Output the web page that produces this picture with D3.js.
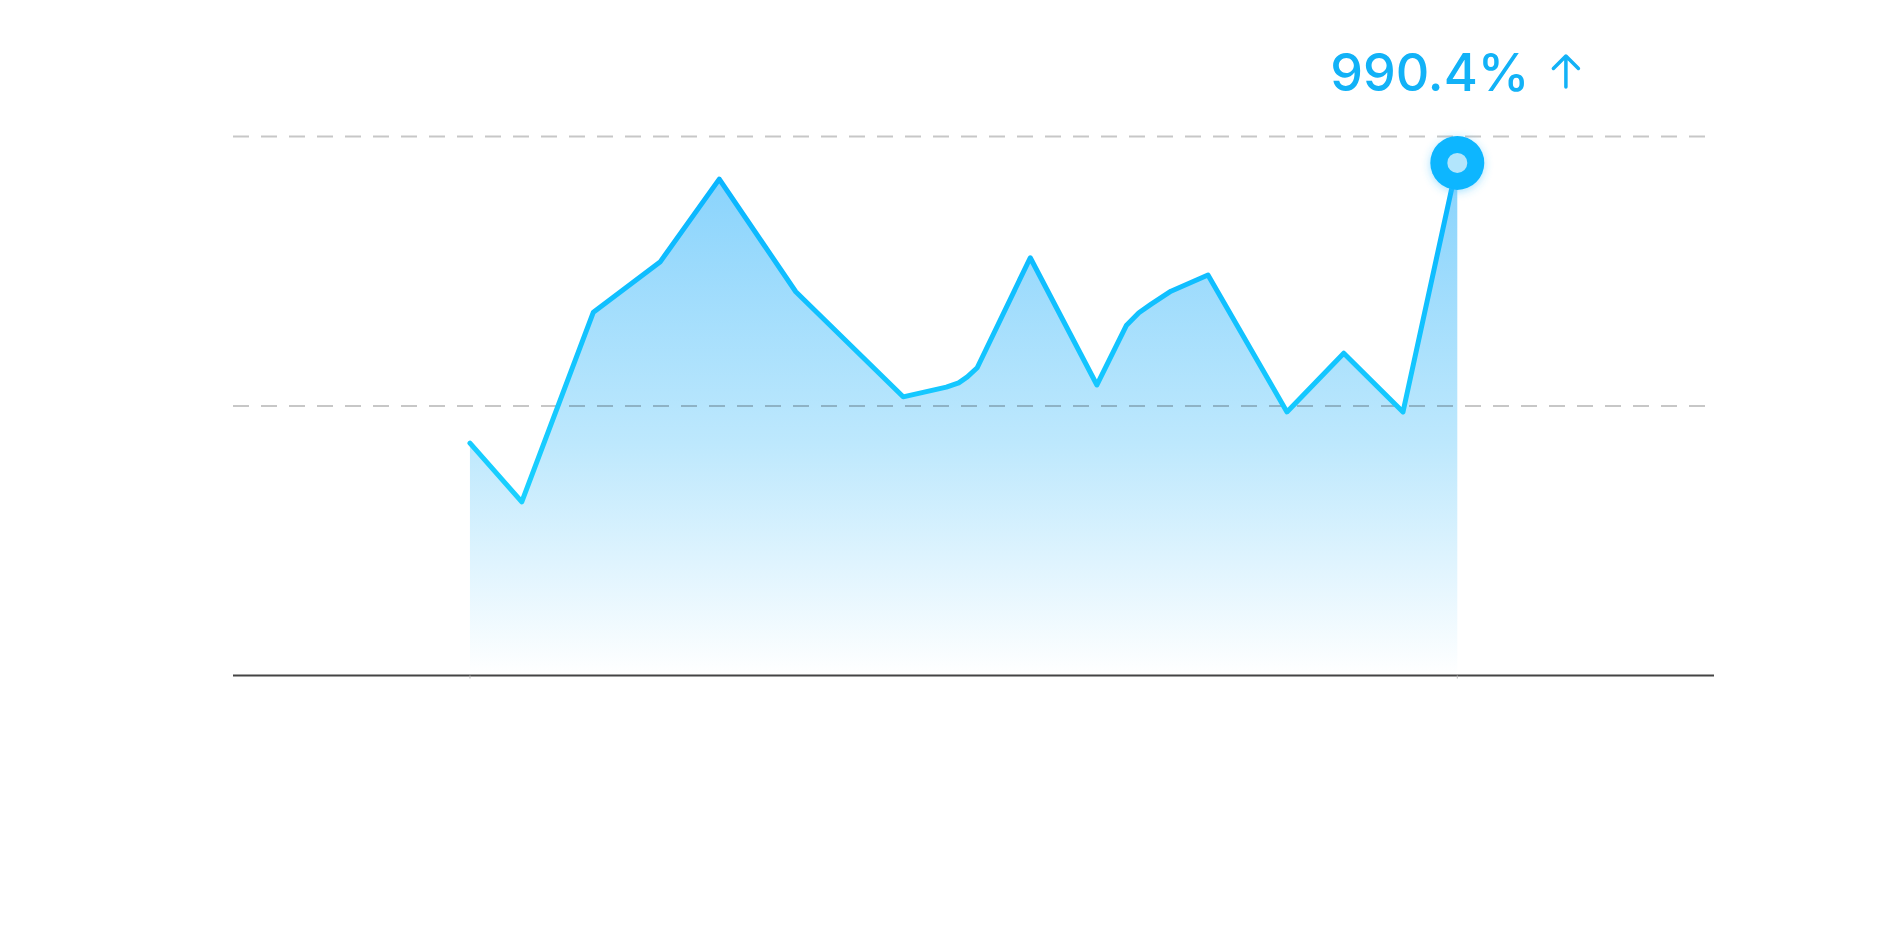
<!DOCTYPE html>
<html>
<head>
<meta charset="utf-8">
<script src="https://cdn.jsdelivr.net/npm/d3@7"></script>
<style>
  html, body { margin: 0; padding: 0; background: #fff; }
  svg { display: block; }
</style>
</head>
<body>
<div id="chart"></div>
<script>
// data (x = day index, y = value)
var days   = [9.6, 11.7, 14.6, 17.3, 19.7, 22.8, 27.15, 28.9, 29.4, 29.75, 30.15, 32.3, 35.0, 36.2, 36.7, 37.2, 38.0, 39.5, 42.7, 45.0, 47.4, 49.6];
var values = [431, 322, 674, 767, 921, 712, 517, 535, 543, 554, 571, 775, 539, 650, 673, 689, 713, 743, 489, 598, 489, 951];
var yTicks = [500, 1000];
var labelText = "990.4%";

var data = days.map(function (d, i) { return {day: d, value: values[i]}; });

var W = 1900, H = 940;
var margin = {top: 136.5, right: 186, bottom: 264.5, left: 233},
    width = W - margin.left - margin.right,
    height = H - margin.top - margin.bottom;

var svg = d3.select("#chart")
  .append("svg")
    .attr("width", W)
    .attr("height", H);

var defs = svg.append("defs");

var g = svg.append("g")
    .attr("transform", "translate(" + margin.left + "," + margin.top + ")");

var x = d3.scaleLinear().domain([0, 60]).range([0, width]);
var y = d3.scaleLinear().domain([0, 1000]).range([height, 0]);

// gradients
var areaGrad = defs.append("linearGradient")
    .attr("id", "areaGrad")
    .attr("gradientUnits", "userSpaceOnUse")
    .attr("x1", 0).attr("x2", 0)
    .attr("y1", y(960)).attr("y2", y(0));
areaGrad.append("stop").attr("offset", "0%").attr("stop-color", "#86d2fc");
areaGrad.append("stop").attr("offset", "55%").attr("stop-color", "#bde8fd");
areaGrad.append("stop").attr("offset", "100%").attr("stop-color", "#ffffff");

var lineGrad = defs.append("linearGradient")
    .attr("id", "lineGrad")
    .attr("gradientUnits", "userSpaceOnUse")
    .attr("x1", 0).attr("x2", 0)
    .attr("y1", y(950)).attr("y2", y(300));
lineGrad.append("stop").attr("offset", "0%").attr("stop-color", "#0ab4ff");
lineGrad.append("stop").attr("offset", "100%").attr("stop-color", "#1bd2ff");

var glow = defs.append("filter")
    .attr("id", "glow")
    .attr("x", "-60%").attr("y", "-60%")
    .attr("width", "220%").attr("height", "220%");
glow.append("feDropShadow")
    .attr("dx", 0).attr("dy", 2)
    .attr("stdDeviation", 4)
    .attr("flood-color", "#3cc0ff")
    .attr("flood-opacity", 0.45);

// area
var area = d3.area()
    .x(function (d) { return x(d.day); })
    .y0(y(0))
    .y1(function (d) { return y(d.value); });

g.append("path")
    .datum(data)
    .attr("d", area)
    .attr("fill", "url(#areaGrad)");

// grid lines (drawn over the area, semi transparent)
g.append("g")
  .selectAll("line")
  .data(yTicks)
  .enter()
  .append("line")
    .attr("x1", 0)
    .attr("x2", width)
    .attr("y1", function (d) { return y(d); })
    .attr("y2", function (d) { return y(d); })
    .attr("stroke", "rgba(0,0,0,0.22)")
    .attr("stroke-width", 2)
    .attr("stroke-dasharray", "16,12");

// baseline
g.append("line")
    .attr("x1", 0).attr("x2", width)
    .attr("y1", y(0)).attr("y2", y(0))
    .attr("stroke", "#444")
    .attr("stroke-width", 2);

// small ticks at first / last point
g.append("g")
  .selectAll("line")
  .data([data[0], data[data.length - 1]])
  .enter()
  .append("line")
    .attr("x1", function (d) { return x(d.day); })
    .attr("x2", function (d) { return x(d.day); })
    .attr("y1", y(0))
    .attr("y2", y(0) + 3)
    .attr("stroke", "#bbb")
    .attr("stroke-width", 1);

// line
var line = d3.line()
    .x(function (d) { return x(d.day); })
    .y(function (d) { return y(d.value); });

g.append("path")
    .datum(data)
    .attr("d", line)
    .attr("fill", "none")
    .attr("stroke", "url(#lineGrad)")
    .attr("stroke-width", 5)
    .attr("stroke-linejoin", "round")
    .attr("stroke-linecap", "round");

// last point marker
var last = data[data.length - 1];
var mx = x(last.day), my = y(last.value);

g.append("circle")
    .attr("cx", mx).attr("cy", my)
    .attr("r", 27)
    .attr("fill", "#10b6ff")
    .attr("filter", "url(#glow)");
g.append("circle")
    .attr("cx", mx).attr("cy", my)
    .attr("r", 10)
    .attr("fill", "#b2e5fc");

// label above the last point
var label = g.append("g");
var txt = label.append("text")
    .attr("x", 0)
    .attr("y", 0)
    .attr("fill", "#12b2f7")
    .style("font-family", "Inter, 'Liberation Sans', Arial, sans-serif")
    .style("font-weight", 500)
    .style("font-size", "52px")
    .text(labelText);

var tw = txt.node().getComputedTextLength();
var gap = 24, arrowW = 25;

// up arrow icon
label.append("path")
    .attr("d", "M" + (tw + gap + arrowW / 2) + ",-4 V-35 M" + (tw + gap) + ",-22.5 L" + (tw + gap + arrowW / 2) + ",-35 L" + (tw + gap + arrowW) + ",-22.5")
    .attr("fill", "none")
    .attr("stroke", "#12b2f7")
    .attr("stroke-width", 3.5)
    .attr("stroke-linecap", "round")
    .attr("stroke-linejoin", "round");

var total = tw + gap + arrowW;
label.attr("transform", "translate(" + (mx - total / 2 - 3) + "," + (y(1000) - 45.5) + ")");
</script>
</body>
</html>
